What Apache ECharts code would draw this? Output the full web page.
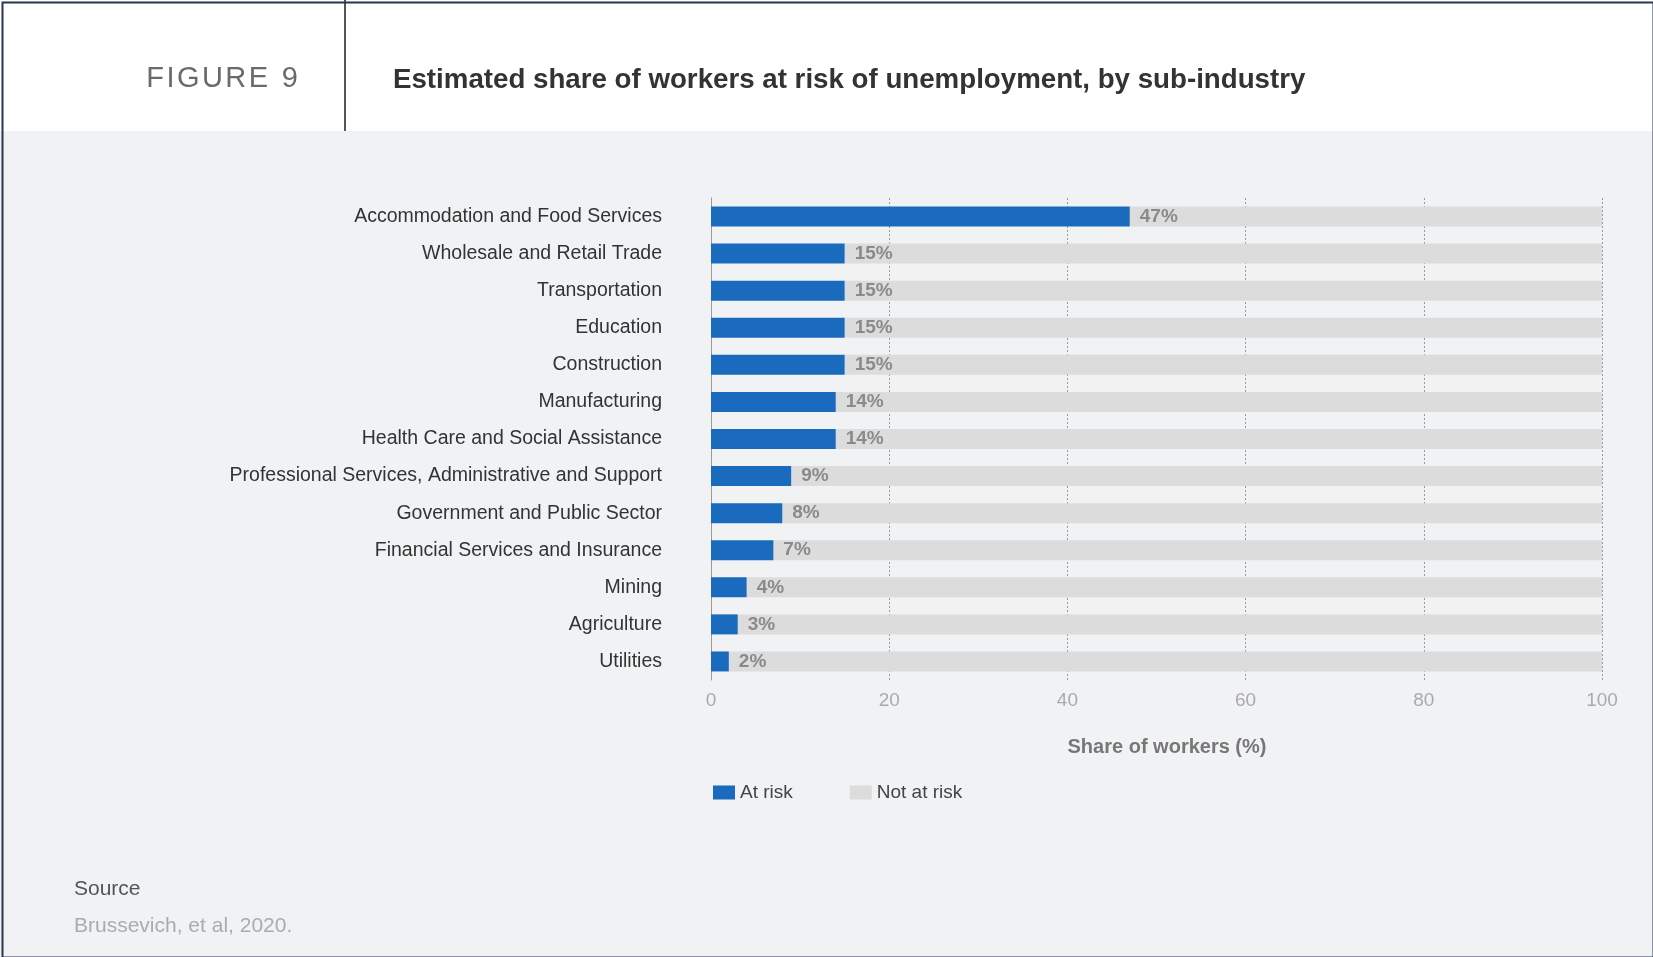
<!DOCTYPE html>
<html>
<head>
<meta charset="utf-8">
<script src="https://cdn.jsdelivr.net/npm/echarts@6/dist/echarts.min.js"></script>
<style>
html,body{margin:0;padding:0;background:#f0f2f4;}
#chart{width:1653px;height:957px;}
</style>
</head>
<body>
<div id="chart"></div>
<script>
const categories = [
  "Accommodation and Food Services",
  "Wholesale and Retail Trade",
  "Transportation",
  "Education",
  "Construction",
  "Manufacturing",
  "Health Care and Social Assistance",
  "Professional Services, Administrative and Support",
  "Government and Public Sector",
  "Financial Services and Insurance",
  "Mining",
  "Agriculture",
  "Utilities"
];
const atRisk =    [47, 15, 15, 15, 15, 14, 14, 9, 8, 7, 4, 3, 2];
const notAtRisk = [53, 85, 85, 85, 85, 86, 86, 91, 92, 93, 96, 97, 98];
const xTicks = [0, 20, 40, 60, 80, 100];

const FONT = '"Liberation Sans", Arial, Helvetica, sans-serif';
const chart = echarts.init(document.getElementById('chart'), null, {renderer: 'canvas'});

chart.setOption({
  backgroundColor: '#f0f2f4',
  animation: false,
  textStyle: {fontFamily: FONT},
  graphic: [
    {type: 'rect', left: 0, top: 0, shape: {width: 1653, height: 131}, style: {fill: '#ffffff'}, z: 0},
    {type: 'line', shape: {x1: 345, y1: 0, x2: 345, y2: 131}, style: {stroke: '#555555', lineWidth: 2}},
    {type: 'text', x: 298, y: 79, style: {text: 'F\u200AI\u200AG\u200AU\u200AR\u200AE\u2009 9', font: '29px ' + FONT, fill: '#6a6a6a', align: 'right', verticalAlign: 'middle'}},
    {type: 'text', x: 393, y: 80, style: {text: 'Estimated share of workers at risk of unemployment, by sub-industry', font: 'bold 27.7px ' + FONT, fill: '#333333', align: 'left', verticalAlign: 'middle'}},
    {type: 'text', x: 74, y: 889, style: {text: 'Source', font: '21px ' + FONT, fill: '#555555', align: 'left', verticalAlign: 'middle'}},
    {type: 'text', x: 74, y: 926, style: {text: 'Brussevich, et al, 2020.', font: '21px ' + FONT, fill: '#ababab', align: 'left', verticalAlign: 'middle'}},
    {type: 'rect', left: 0, top: 0, shape: {x: 1, y: 1, width: 1651, height: 955}, style: {fill: 'none', stroke: '#2b3550', lineWidth: 2}, z: 100}
  ],
  legend: {
    left: 708, top: 778,
    itemWidth: 22, itemHeight: 14, itemGap: 57,
    icon: 'rect',
    textStyle: {color: '#444444', fontSize: 19, fontFamily: FONT},
    data: ['At risk', 'Not at risk']
  },
  grid: {left: 711, right: 1653 - 1602, top: 198, bottom: 957 - 680, containLabel: false},
  xAxis: {
    type: 'value', min: 0, max: 100, interval: 20,
    name: 'Share of workers (%)', nameLocation: 'middle', nameGap: 57,
    nameTextStyle: {color: '#777777', fontSize: 20, fontWeight: 'bold', fontFamily: FONT, padding: [0, 0, 0, 21]},
    axisLine: {show: false}, axisTick: {show: false},
    axisLabel: {color: '#aaaaaa', fontSize: 19, margin: 11, fontFamily: FONT,
      formatter: v => xTicks.indexOf(v) >= 0 ? String(v) : ''},
    splitLine: {show: true, lineStyle: {color: '#9a9a9a', width: 1, type: [2, 2]}}
  },
  yAxis: {
    type: 'category', inverse: true, data: categories,
    axisLine: {show: true, lineStyle: {color: '#9a9a9a', width: 1}},
    axisTick: {show: false},
    axisLabel: {color: '#333333', fontSize: 19.5, margin: 49, fontFamily: FONT}
  },
  series: [
    {
      name: 'At risk', type: 'bar', stack: 'total', data: atRisk, barWidth: 20, z: 3,
      itemStyle: {color: '#1a6bbd'},
      label: {show: true, position: 'right', distance: 10, formatter: '{c}%',
        color: '#8a8a8a', fontSize: 19, fontWeight: 'bold', fontFamily: FONT}
    },
    {
      name: 'Not at risk', type: 'bar', stack: 'total', data: notAtRisk, barWidth: 20, z: 2,
      itemStyle: {color: '#dcdcdc'}
    }
  ]
});
</script>
</body>
</html>
